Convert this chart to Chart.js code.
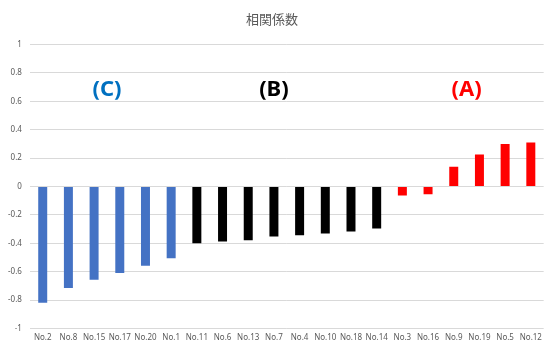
<!DOCTYPE html>
<html>
<head>
<meta charset="utf-8">
<script src="https://cdn.jsdelivr.net/npm/chart.js@4"></script>
<style>
  html, body { margin: 0; padding: 0; background: #fff; }
</style>
</head>
<body>
<canvas id="chart" width="547" height="342"></canvas>
<script>
const labels = ["No.2", "No.8", "No.15", "No.17", "No.20", "No.1", "No.11", "No.6", "No.13", "No.7",
  "No.4", "No.10", "No.18", "No.14", "No.3", "No.16", "No.9", "No.19", "No.5", "No.12"];
const values = [-0.82, -0.715, -0.657, -0.61, -0.558, -0.505, -0.40, -0.387, -0.378, -0.352,
  -0.343, -0.331, -0.317, -0.296, -0.063, -0.054, 0.14, 0.225, 0.30, 0.31];
const groups = ["C", "C", "C", "C", "C", "C", "B", "B", "B", "B",
  "B", "B", "B", "B", "A", "A", "A", "A", "A", "A"];
const groupColors = { A: "#FF0000", B: "#000000", C: "#4472C4" };

// group captions, placed at a category position and a value
const captions = [
  { text: "(C)", at: 2.5, y: 0.68, color: "#0070C0" },
  { text: "(B)", at: 9, y: 0.68, color: "#000000" },
  { text: "(A)", at: 16.5, y: 0.68, color: "#FF0000" },
];

const captionPlugin = {
  id: "captions",
  afterDatasetsDraw(chart) {
    const ctx = chart.ctx;
    const xs = chart.scales.x;
    const ys = chart.scales.y;
    ctx.save();
    ctx.font = "bold 22px 'Noto Sans', sans-serif";
    ctx.textAlign = "center";
    ctx.textBaseline = "middle";
    captions.forEach(c => {
      ctx.fillStyle = c.color;
      ctx.fillText(c.text, xs.getPixelForValue(c.at), ys.getPixelForValue(c.y));
    });
    ctx.restore();
  }
};

new Chart(document.getElementById("chart"), {
  type: "bar",
  data: {
    labels: labels,
    datasets: [{
      data: values,
      backgroundColor: groups.map(g => groupColors[g]),
      barPercentage: 0.35,
      categoryPercentage: 1.0,
    }],
  },
  options: {
    responsive: false,
    animation: false,
    layout: { padding: { left: 0, right: 3, bottom: -6, top: 0 } },
    plugins: {
      legend: { display: false },
      tooltip: { enabled: false },
      title: {
        display: true,
        text: "相関係数",
        color: "#595959",
        font: { family: "'Noto Sans CJK JP', sans-serif", size: 13, weight: "normal" },
        padding: { top: 11, bottom: 18 },
      },
    },
    scales: {
      x: {
        grid: { display: false, drawTicks: false },
        border: { display: false },
        ticks: {
          color: "#595959",
          font: { family: "'Noto Sans', sans-serif", size: 8 },
          maxRotation: 0,
          autoSkip: false,
          padding: 5,
        },
      },
      y: {
        min: -1,
        max: 1,
        grid: { color: "#D9D9D9", drawTicks: false, lineWidth: 1 },
        border: { display: false },
        ticks: {
          stepSize: 0.2,
          color: "#595959",
          font: { family: "'Noto Sans', sans-serif", size: 8 },
          padding: 8,
          callback: v => Math.round(v * 10) / 10,
        },
      },
    },
  },
  plugins: [captionPlugin],
});
</script>
</body>
</html>
